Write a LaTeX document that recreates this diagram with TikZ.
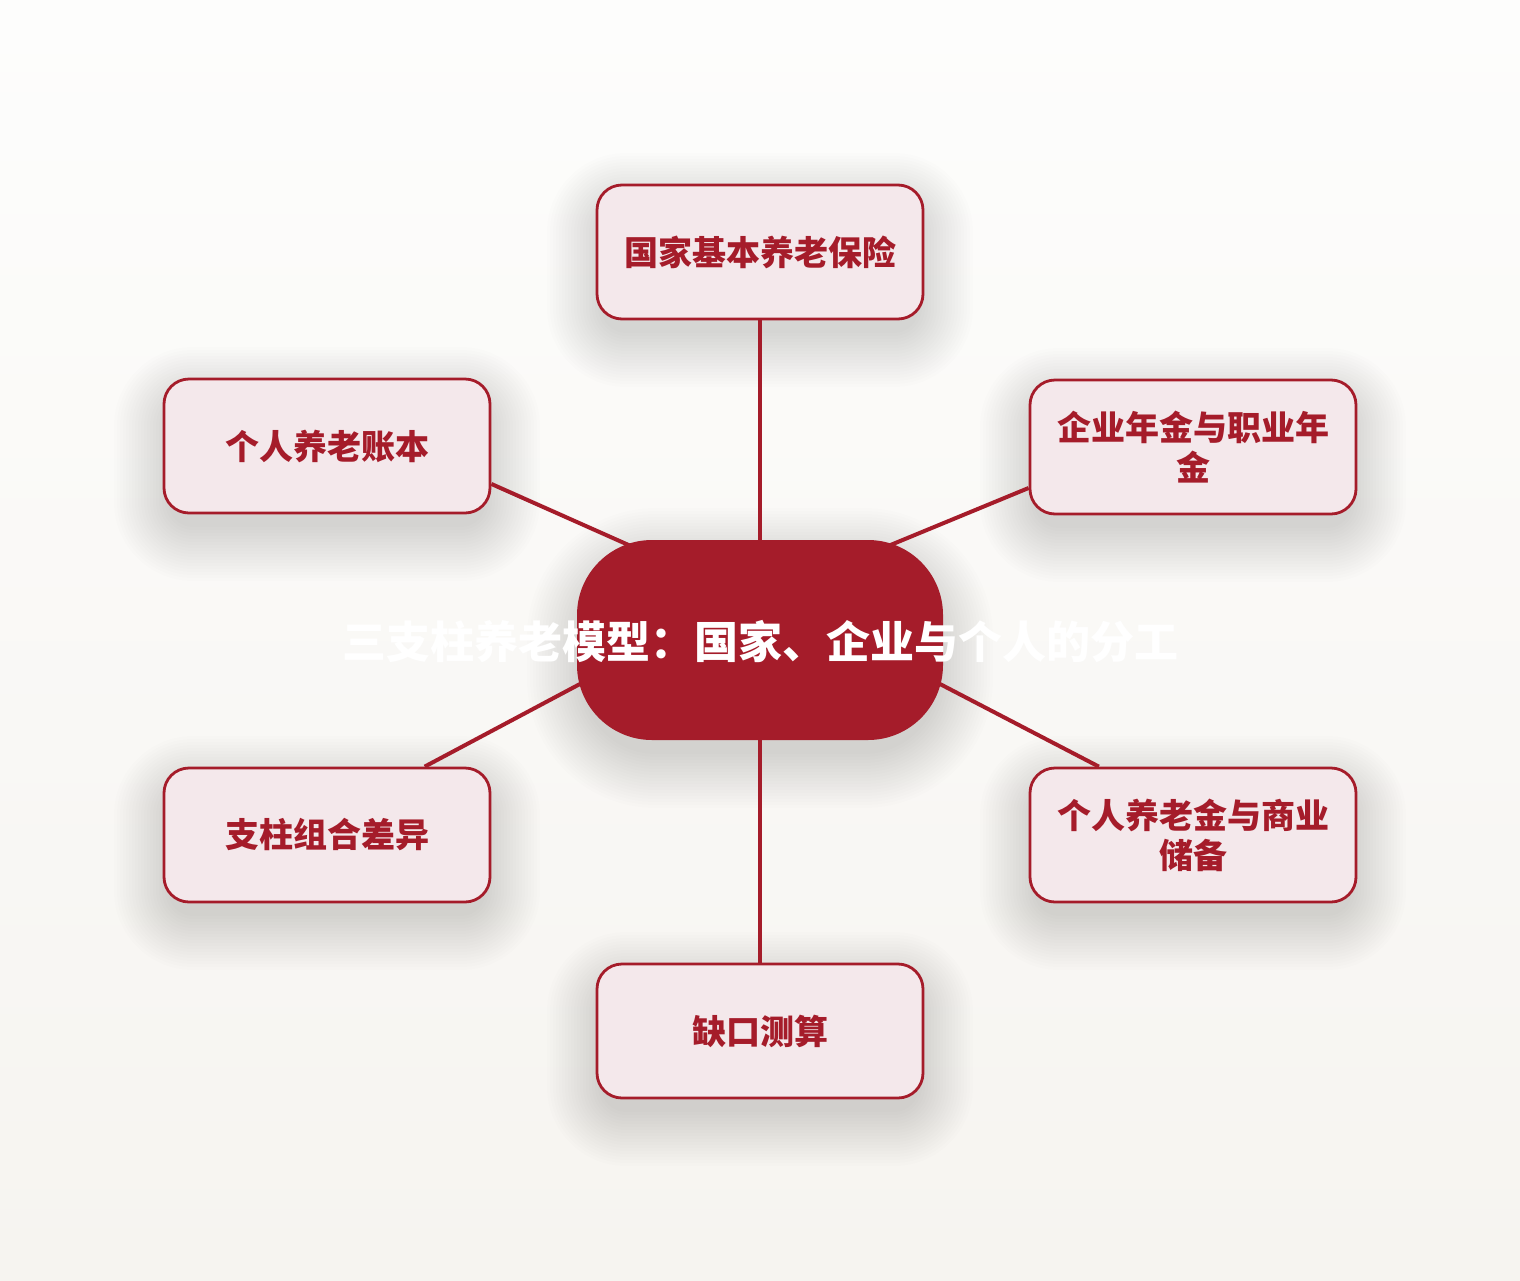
\documentclass[tikz,border=0pt]{standalone}
\usepackage{fontspec}
\setmainfont{Noto Sans CJK SC}
\usetikzlibrary{calc}
\pgfdeclarelayer{bg}
\pgfdeclarelayer{shadowlayer}
\pgfdeclarelayer{edges}
\pgfsetlayers{bg,shadowlayer,edges,main}
\definecolor{deepred}{HTML}{A51C2A}
\definecolor{boxfill}{HTML}{F4E8EB}
\definecolor{bgtop}{HTML}{FDFDFC}
\definecolor{bgbot}{HTML}{F6F4F0}
\newcommand\softshade[5]{% x y halfw halfh radius
  \foreach \k in {-4,-1,...,50}{%
    \fill[black, opacity=0.0075, rounded corners={#5pt+\k pt+4pt}]
      ({#1-#3-\k},{#2-#4-\k+18}) rectangle ({#1+#3+\k},{#2+#4+\k+18});
  }%
}
\begin{document}
\begin{tikzpicture}[x=1pt,y=-1pt,
  sat/.style={draw=deepred, line width=2.8pt, fill=boxfill, rounded corners=25pt,
    minimum width=326pt, minimum height=134pt, inner sep=0pt, align=center,
    text=deepred, font=\fontsize{34}{40}\selectfont\bfseries},
  hub/.style={fill=deepred, rounded corners=75pt, minimum width=366pt, minimum height=200pt,
    inner sep=0pt},
  hubtext/.style={text=white, font=\fontsize{44}{52}\selectfont\bfseries, inner sep=0pt},
  link/.style={draw=deepred, line width=4pt}]
\useasboundingbox (0,0) rectangle (1520,1280);
\begin{pgfonlayer}{bg}
\shade[top color=bgtop, bottom color=bgbot] (0,0) rectangle (1520,1280);
\end{pgfonlayer}

\node[hub] (hub) at (760,640) {};
\node[hubtext] (title) at (760,642) {三支柱养老模型：国家、企业与个人的分工};

\node[sat] (top)  at (760,252)  {国家基本养老保险};
\node[sat] (ltop) at (327,446)  {个人养老账本};
\node[sat] (rtop) at (1193,447) {企业年金与职业年\\金};
\node[sat] (lbot) at (327,835)  {支柱组合差异};
\node[sat] (rbot) at (1193,835) {个人养老金与商业\\储备};
\node[sat] (bot)  at (760,1031) {缺口测算};

\begin{pgfonlayer}{shadowlayer}
\softshade{760}{640}{183}{100}{75}
\softshade{760}{252}{163}{67}{25}
\softshade{327}{446}{163}{67}{25}
\softshade{1193}{447}{163}{67}{25}
\softshade{327}{835}{163}{67}{25}
\softshade{1193}{835}{163}{67}{25}
\softshade{760}{1031}{163}{67}{25}
\end{pgfonlayer}

\begin{pgfonlayer}{edges}
\draw[link] (top.south) -- (hub.north);
\draw[link] (ltop.-13.5) -- ($(ltop.-13.5)!1.15!(hub.145.3)$);
\draw[link] (rtop.-166.2) -- ($(rtop.-166.2)!1.15!(hub.35.1)$);
\draw[link] (lbot.35.8) -- ($(lbot.35.8)!1.15!(hub.194.1)$);
\draw[link] (rbot.144.2) -- ($(rbot.144.2)!1.15!(hub.-14.7)$);
\draw[link] (hub.south) -- (bot.north);
\end{pgfonlayer}
\end{tikzpicture}
\end{document}
